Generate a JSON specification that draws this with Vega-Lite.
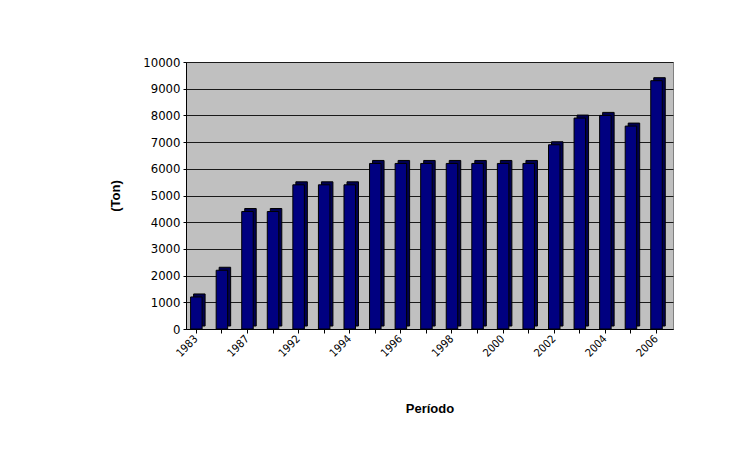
{
  "$schema": "https://vega.github.io/schema/vega-lite/v6.json",
  "autosize": {"type": "none"},
  "width": 487,
  "height": 267,
  "padding": {"left": 186, "top": 62, "right": 83, "bottom": 124},
  "background": "white",
  "config": {
    "view": {"fill": "#C0C0C0", "stroke": "#808080", "strokeWidth": 1},
    "font": "'Liberation Sans Narrow', 'DejaVu Sans Condensed', 'Liberation Sans', sans-serif"
  },
  "data": {
    "values": [
      {"Ano": "1983", "Ton": 1200},
      {"Ano": "1985", "Ton": 2200},
      {"Ano": "1987", "Ton": 4400},
      {"Ano": "1990", "Ton": 4400},
      {"Ano": "1992", "Ton": 5400},
      {"Ano": "1993", "Ton": 5400},
      {"Ano": "1994", "Ton": 5400},
      {"Ano": "1995", "Ton": 6200},
      {"Ano": "1996", "Ton": 6200},
      {"Ano": "1997", "Ton": 6200},
      {"Ano": "1998", "Ton": 6200},
      {"Ano": "1999", "Ton": 6200},
      {"Ano": "2000", "Ton": 6200},
      {"Ano": "2001", "Ton": 6200},
      {"Ano": "2002", "Ton": 6900},
      {"Ano": "2003", "Ton": 7900},
      {"Ano": "2004", "Ton": 8000},
      {"Ano": "2005", "Ton": 7600},
      {"Ano": "2006", "Ton": 9300}
    ]
  },
  "encoding": {
    "x": {
      "field": "Ano",
      "type": "ordinal",
      "sort": null,
      "scale": {"paddingInner": 0.55, "paddingOuter": 0.3, "align": 0.3},
      "axis": {
        "title": "Período",
        "titleFont": "Liberation Sans",
        "titleFontWeight": "bold",
        "titleFontSize": 13,
        "titleColor": "black",
        "titlePadding": 44,
        "labelAngle": -45,
        "labelAlign": "right",
        "labelBaseline": "middle",
        "labelFontSize": 11,
        "labelColor": "black",
        "labelPadding": 4,
        "labelExpr": "indexof(['1983','1987','1992','1994','1996','1998','2000','2002','2004','2006'], datum.label) >= 0 ? datum.label : ''",
        "tickColor": "black",
        "tickSize": 4,
        "domainColor": "black",
        "grid": false
      }
    },
    "y": {
      "field": "Ton",
      "type": "quantitative",
      "scale": {"domain": [0, 10000], "nice": false},
      "axis": {
        "title": "(Ton)",
        "titleFont": "Liberation Sans",
        "titleFontWeight": "bold",
        "titleFontSize": 13,
        "titleColor": "black",
        "titlePadding": 20,
        "values": [0, 1000, 2000, 3000, 4000, 5000, 6000, 7000, 8000, 9000, 10000],
        "format": "d",
        "labelFontSize": 13,
        "labelColor": "black",
        "labelPadding": 3,
        "tickColor": "black",
        "tickSize": 3,
        "domainColor": "black",
        "grid": true,
        "gridColor": "#1a1a1a",
        "gridWidth": 1.2
      }
    }
  },
  "layer": [
    {
      "mark": {"type": "bar", "color": "#000050", "stroke": "black", "strokeWidth": 1, "xOffset": 3, "yOffset": -3, "y2Offset": -3}
    },
    {
      "mark": {"type": "bar", "color": "#000080", "stroke": "black", "strokeWidth": 1}
    }
  ]
}
